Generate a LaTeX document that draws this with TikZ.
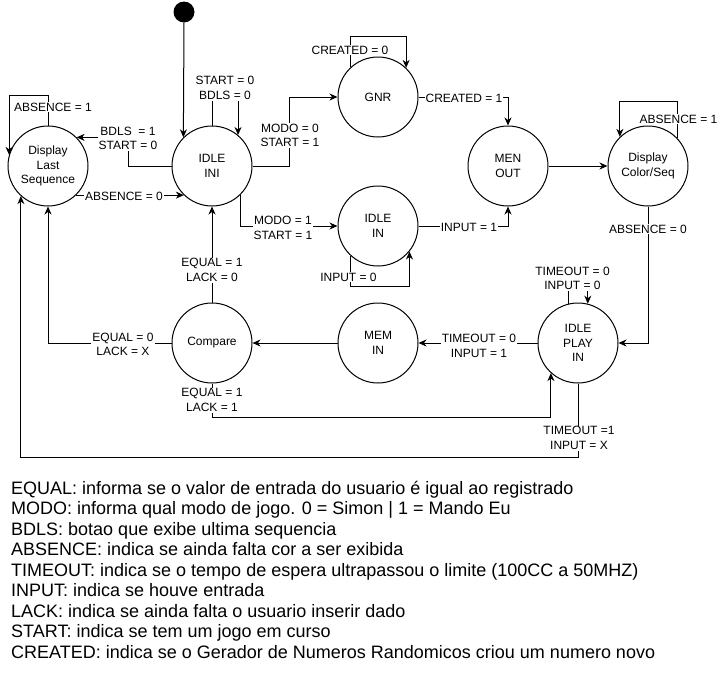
\documentclass[tikz,border=0pt]{standalone}
\usepackage{fontspec}
\setmainfont{Liberation Sans}
\usetikzlibrary{arrows.meta,calc}
\begin{document}
\begin{tikzpicture}[x=1pt,y=-1pt,
  st/.style={draw,circle,minimum size=80pt,inner sep=0pt,align=center,font=\fontsize{12}{14.5}\selectfont,line width=1pt},
  lbl/.style={fill=white,inner sep=1pt,align=center,font=\fontsize{12}{14.5}\selectfont},
  arr/.style={line width=1pt,-{Stealth[length=8pt,width=7pt,inset=2.5pt]}},
  legend/.style={anchor=base west,inner sep=0pt,font=\fontsize{18}{20.5}\selectfont}]
\useasboundingbox (0,0) rectangle (721,673);

% states
\node[circle,fill=black,minimum size=21pt,inner sep=0pt] (init) at (184,12) {};
\node[st] (dls) at (48,166) {Display\\Last\\Sequence};
\node[st] (ini) at (212,166) {IDLE\\INI};
\node[st] (gnr) at (378,97) {GNR};
\node[st] (menout) at (508,166) {MEN\\OUT};
\node[st] (dcs) at (648,166) {Display\\Color/Seq};
\node[st] (idlein) at (378,226) {IDLE\\IN};
\node[st] (compare) at (212,343) {Compare};
\node[st] (memin) at (378,343) {MEM\\IN};
\node[st] (play) at (578,343) {IDLE\\PLAY\\IN};

% connectors
\draw[arr] (init.south) -- (ini.135);
\draw[arr] (ini.north) -- ++(0,-36) -| (ini.50);
\draw[arr] (ini.west) -| ($(dls.45)+(52,0)$) -- (dls.45);
\draw[arr] (dls.-46) -- (ini.-134);
\draw[arr] (dls.north) -- ++(0,-30) -| (dls.164);
\draw[arr] (ini.east) -- ++(37,0) |- (gnr.west);
\draw[arr] (gnr.132) -- ++(0,-30) -| (gnr.46);
\draw[arr] (gnr.east) -| (menout.north);
\draw[arr] (ini.-45) |- (idlein.west);
\draw[arr] (idlein.-132) -- ++(0,30) -| (idlein.-39);
\draw[arr] (idlein.east) -| (menout.south);
\draw[arr] (menout.east) -- (dcs.west);
\draw[arr] (dcs.43) -- ++(0,-36.5) -| (dcs.134);
\draw[arr] (dcs.south) |- (play.east);
\draw[arr] (play.104) -- ++(0,-30) -| (play.76);
\draw[arr] (play.west) -- (memin.east);
\draw[arr] (memin.west) -- (compare.east);
\draw[arr] (compare.north) -- (ini.south);
\draw[arr] (compare.west) -| (dls.south);
\draw[arr] (compare.south) -- ++(0,34) -| (play.-132);
\draw[arr] (play.south) -- ++(0,74) -| (dls.-132);

% connector labels
\node[lbl] (l1) at (225,88) {START = 0\\BDLS = 0};
\node[lbl] (l2) at (128,138.5) {BDLS\ \ = 1\\START = 0};
\node[lbl] (l3) at (124,196) {ABSENCE = 0};
\node[lbl] (l4) at (53,107) {ABSENCE = 1};
\node[lbl] (l5) at (290,135.5) {MODO = 0\\START = 1};
\node[lbl] (l6) at (350,50) {CREATED = 0};
\node[lbl] (l7) at (464,98) {CREATED = 1};
\node[lbl] (l8) at (283,228) {MODO = 1\\START = 1};
\node[lbl] (l9) at (348.5,277) {INPUT = 0};
\node[lbl] (l10) at (469,227) {INPUT = 1};
\node[lbl] (l11) at (678.5,119) {ABSENCE = 1};
\node[lbl] (l12) at (648,229) {ABSENCE = 0};
\node[lbl] (l13) at (572.5,278.5) {TIMEOUT = 0\\INPUT = 0};
\node[lbl] (l14) at (479,346) {TIMEOUT = 0\\INPUT = 1};
\node[lbl] (l15) at (212,270) {EQUAL = 1\\LACK = 0};
\node[lbl] (l16) at (123,344.5) {EQUAL = 0\\LACK = X};
\node[lbl] (l17) at (212,400) {EQUAL = 1\\LACK = 1};
\node[lbl] (l18) at (579,438) {TIMEOUT =1\\INPUT = X};

% legend
\node[legend] (t1) at (11,494) {EQUAL: informa se o valor de entrada do usuario é igual ao registrado};
\node[legend] (t2) at (11,514.5) {MODO: informa qual modo de jogo. 0 = Simon | 1 = Mando Eu};
\node[legend] (t3) at (11,535) {BDLS: botao que exibe ultima sequencia};
\node[legend] (t4) at (11,555.5) {ABSENCE: indica se ainda falta cor a ser exibida};
\node[legend] (t5) at (11,576) {TIMEOUT: indica se o tempo de espera ultrapassou o limite (100CC a 50MHZ)};
\node[legend] (t6) at (11,596.5) {INPUT: indica se houve entrada};
\node[legend] (t7) at (11,617) {LACK: indica se ainda falta o usuario inserir dado};
\node[legend] (t8) at (11,637.5) {START: indica se tem um jogo em curso};
\node[legend] (t9) at (11,658) {CREATED: indica se o Gerador de Numeros Randomicos criou um numero novo};
\end{tikzpicture}
\end{document}
